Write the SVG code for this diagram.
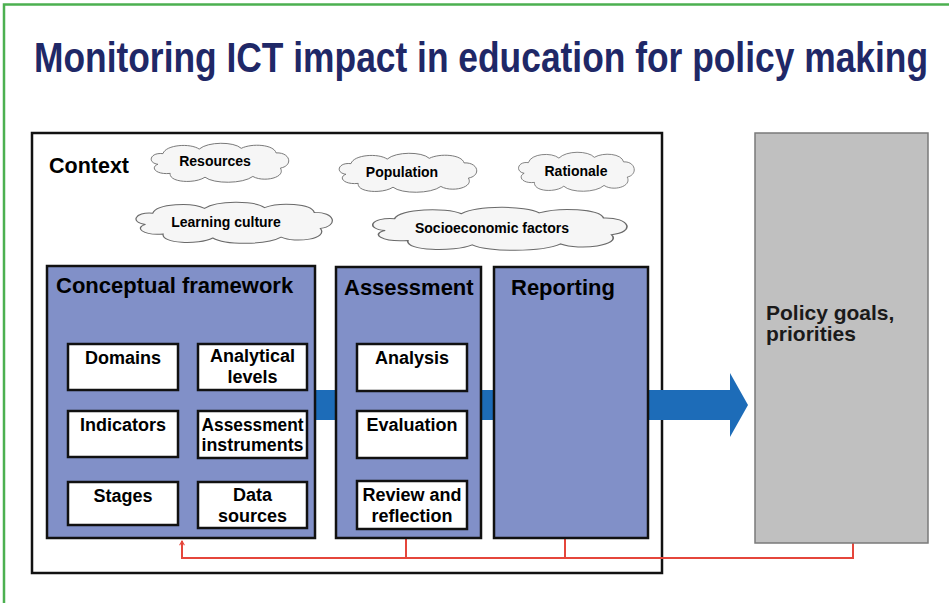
<svg xmlns="http://www.w3.org/2000/svg" width="949" height="603" viewBox="0 0 949 603">
<defs>
<style>
text{font-family:"Liberation Sans",Arial,sans-serif;font-weight:bold;fill:#000}
.title{font-size:35.4px;fill:#1f2867}
.hdr{font-size:22px}
.cl{font-size:14px}
.box{font-size:18px}
.panel{fill:#8190c8;stroke:#111;stroke-width:2.5}
.wbox{fill:#fff;stroke:#111;stroke-width:2.5}
.cloud{fill:#f6f6f6;stroke:#6a6a6a;stroke-width:1.2}
.red{fill:none;stroke:#e5463b;stroke-width:2}
</style>
<path id="cloudShape" d="M15,28 C0,26 4,12 22,14 C26,2 60,0 72,8 C84,-2 120,-2 130,7 C145,0 175,2 178,13 C198,12 202,30 184,33 C192,46 160,52 146,44 C132,54 92,54 80,45 C66,54 30,52 32,40 C12,42 4,32 15,28 Z"/>
<marker id="redArrow" viewBox="0 0 10 10" refX="8" refY="5" markerWidth="6" markerHeight="6" orient="auto" markerUnits="userSpaceOnUse">
<path d="M1,1 L8,5 L1,9" fill="none" stroke="#e5463b" stroke-width="1.8"/>
</marker>
</defs>
<rect x="0" y="0" width="949" height="603" fill="#fff"/>
<path d="M4,603 V4.5 H949" fill="none" stroke="#4cb050" stroke-width="2.5"/>
<text class="title" transform="translate(34,72) scale(1,1.18)" x="0" y="0" textLength="894" lengthAdjust="spacingAndGlyphs">Monitoring ICT impact in education for policy making</text>

<g id="context">
<rect x="32" y="133" width="630" height="440" fill="#fff" stroke="#111" stroke-width="2.5"/>
<text x="49" y="173" style="font-size:21.5px">Context</text>
</g>

<g id="cloud-resources">
<use href="#cloudShape" class="cloud" transform="translate(147,143) scale(0.725,0.76)"/>
<text class="cl" x="215" y="166" text-anchor="middle">Resources</text>
</g>
<g id="cloud-population">
<use href="#cloudShape" class="cloud" transform="translate(335,153) scale(0.725,0.76)"/>
<text class="cl" x="402" y="177" text-anchor="middle">Population</text>
</g>
<g id="cloud-rationale">
<use href="#cloudShape" class="cloud" transform="translate(515,152) scale(0.61,0.76)"/>
<text class="cl" x="576" y="176" text-anchor="middle">Rationale</text>
</g>
<g id="cloud-learning">
<use href="#cloudShape" class="cloud" transform="translate(130,202) scale(1.035,0.8)"/>
<text class="cl" x="226" y="227" text-anchor="middle">Learning culture</text>
</g>
<g id="cloud-socio">
<use href="#cloudShape" class="cloud" transform="translate(365,207) scale(1.34,0.84)"/>
<text class="cl" x="492" y="233" text-anchor="middle">Socioeconomic factors</text>
</g>

<g id="connectors">
<polygon points="300,390 730,390 730,373 748,405 730,437 730,420 300,420" fill="#1d6cb8"/>
<polyline class="red" points="853,543 853,558 182,558 182,541" marker-end="url(#redArrow)"/>
<line class="red" x1="406" y1="538" x2="406" y2="558"/>
<line class="red" x1="565" y1="538" x2="565" y2="558"/>
</g>

<g id="framework">
<rect class="panel" x="47" y="266" width="268" height="272"/>
<text class="hdr" x="56" y="293">Conceptual framework</text>
</g>
<g id="domains"><rect class="wbox" x="68" y="344" width="110" height="46"/><text class="box" x="123" y="364" text-anchor="middle">Domains</text></g>
<g id="analytical"><rect class="wbox" x="198" y="344" width="109" height="46"/><text class="box" x="252.5" y="362" text-anchor="middle">Analytical</text><text class="box" x="252.5" y="383" text-anchor="middle">levels</text></g>
<g id="indicators"><rect class="wbox" x="68" y="411" width="110" height="46"/><text class="box" x="123" y="431" text-anchor="middle">Indicators</text></g>
<g id="instruments"><rect class="wbox" x="198" y="411" width="109" height="47"/><text class="box" x="252.5" y="431" text-anchor="middle" textLength="102" lengthAdjust="spacingAndGlyphs">Assessment</text><text class="box" x="252.5" y="451" text-anchor="middle" textLength="102" lengthAdjust="spacingAndGlyphs">instruments</text></g>
<g id="stages"><rect class="wbox" x="68" y="482" width="110" height="43"/><text class="box" x="123" y="502" text-anchor="middle">Stages</text></g>
<g id="datasources"><rect class="wbox" x="198" y="482" width="109" height="46"/><text class="box" x="252.5" y="501" text-anchor="middle">Data</text><text class="box" x="252.5" y="522" text-anchor="middle">sources</text></g>

<g id="assessment">
<rect class="panel" x="336" y="267" width="145" height="271"/>
<text class="hdr" x="344" y="295">Assessment</text>
</g>
<g id="analysis"><rect class="wbox" x="357" y="344" width="110" height="47"/><text class="box" x="412" y="364" text-anchor="middle">Analysis</text></g>
<g id="evaluation"><rect class="wbox" x="357" y="411" width="110" height="47"/><text class="box" x="412" y="431" text-anchor="middle">Evaluation</text></g>
<g id="review"><rect class="wbox" x="357" y="481" width="110" height="48"/><text class="box" x="412" y="501" text-anchor="middle">Review and</text><text class="box" x="412" y="522" text-anchor="middle">reflection</text></g>

<g id="reporting">
<rect class="panel" x="494" y="267" width="154" height="271"/>
<text class="hdr" x="511" y="295">Reporting</text>
</g>

<g id="policy">
<rect x="755" y="133" width="173" height="410" fill="#c0c0c0" stroke="#7a7a7a" stroke-width="1.5"/>
<text x="766" y="320" style="font-size:21px;fill:#1a1a1a">Policy goals,</text>
<text x="766" y="341" style="font-size:21px;fill:#1a1a1a">priorities</text>
</g>
</svg>
